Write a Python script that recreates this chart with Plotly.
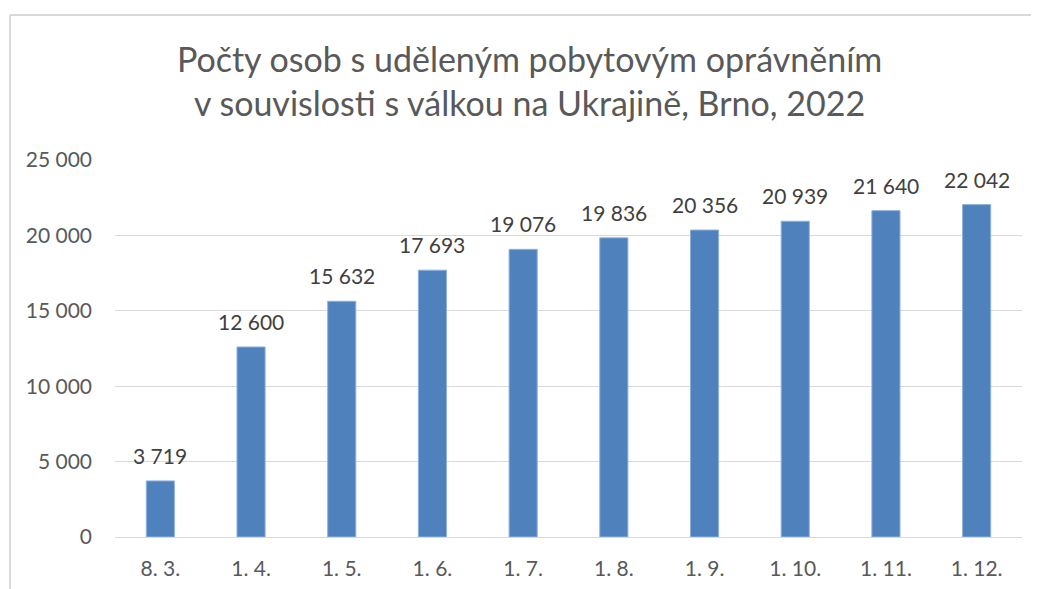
import plotly.graph_objects as go

categories = ["8. 3.", "1. 4.", "1. 5.", "1. 6.", "1. 7.", "1. 8.", "1. 9.", "1. 10.", "1. 11.", "1. 12."]
values = [3719, 12600, 15632, 17693, 19076, 19836, 20356, 20939, 21640, 22042]
y_ticks = [0, 5000, 10000, 15000, 20000, 25000]
y_tick_labels = ["0", "5 000", "10 000", "15 000", "20 000", "25 000"]

def fmt(v):
    return f"{v:,}".replace(",", " ")

FONT = "Lato, 'Open Sans', sans-serif"

fig = go.Figure(go.Bar(
    x=categories,
    y=values,
    marker=dict(color="#4F81BD", line=dict(color="#8FB1DE", width=1)),
    cliponaxis=False,
))

for c, v in zip(categories, values):
    fig.add_annotation(
        x=c, y=v, xref="x", yref="y", text=fmt(v), showarrow=False,
        yanchor="bottom", yshift=11,
        font=dict(family=FONT, size=21, color="#404040"),
    )

# page has an 8px body margin, so margins are offset by 8px
fig.update_layout(
    width=1039, height=589,
    margin=dict(l=107, r=25, t=152, b=60),
    paper_bgcolor="white", plot_bgcolor="white",
    bargap=0.69,
    showlegend=False,
    title=dict(
        text="Počty osob s uděleným pobytovým oprávněním<br>v souvislosti s válkou na Ukrajině, Brno, 2022",
        x=0.502, xanchor="center", y=0.891, yanchor="middle",
        font=dict(family=FONT, size=34, color="#595959"),
    ),
    xaxis=dict(
        type="category",
        showgrid=False, showline=True, linecolor="#D9D9D9", linewidth=1,
        ticks="", tickfont=dict(family=FONT, size=21, color="#595959"),
        ticklabelstandoff=13,
    ),
    yaxis=dict(
        range=[0, 25000], tickvals=y_ticks, ticktext=y_tick_labels,
        showgrid=True, gridcolor="#D9D9D9", gridwidth=1,
        zeroline=False, showline=False, ticks="",
        tickfont=dict(family=FONT, size=21, color="#595959"),
        ticklabelstandoff=22,
    ),
    shapes=[
        dict(type="line", xref="paper", yref="paper", x0=-0.1158, x1=1.06, y0=1.3846, y1=1.3846,
             line=dict(color="#D9D9D9", width=2)),
        dict(type="line", xref="paper", yref="paper", x0=-0.1158, x1=-0.1158, y0=1.3846, y1=-0.2,
             line=dict(color="#D9D9D9", width=2)),
    ],
)

fig.write_html("out.html")
